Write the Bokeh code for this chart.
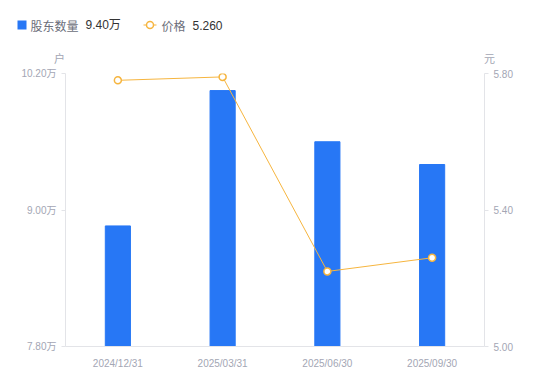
from bokeh.plotting import figure
from bokeh.layouts import column
from bokeh.models import (Range1d, LinearAxis, FixedTicker, CustomJSTickFormatter,
                          Label, FactorRange, ColumnDataSource)
from bokeh.embed import file_html
from bokeh.resources import INLINE

dates = ["2024/12/31", "2025/03/31", "2025/06/30", "2025/09/30"]
holders = [8.86, 10.05, 9.60, 9.40]   # 万户
prices = [5.78, 5.79, 5.22, 5.26]     # 元
left_ticks = [7.8, 9.0, 10.2]
right_ticks = [5.0, 5.4, 5.8]
legend_names = ["股东数量", "价格"]
legend_values = ["9.40万", "5.260"]
units = ["户", "元"]

BLUE = "#2777F5"
ORANGE = "#F6B53F"
TICK = "#A3A6B4"
AXIS = "#E3E4E8"
CJK = "Noto Sans CJK SC"
MIX = "Liberation Sans, Noto Sans CJK SC"

W, H = 550, 381
HEAD = 66          # height of the header strip (legend + units)
FL, FR, FT, FB = 65, 484, 73, 346   # plot frame in page pixels

# ---------- header strip: legend and unit labels ----------
hd = figure(width=W, height=HEAD, x_range=Range1d(0, W), y_range=Range1d(HEAD, 0),
            output_backend="svg", toolbar_location=None, min_border=0)
hd.frame_align = False
hd.axis.visible = False
hd.grid.visible = False
hd.outline_line_color = None
hd.border_fill_color = "white"

def lab(fig, x, y, text, color, size="12px", font=CJK, align="left"):
    fig.add_layout(Label(x=x, y=y, text=text, text_color=color, text_font_size=size,
                         text_font=font, text_align=align, text_baseline="middle"))

hd.rect(x=[21.5], y=[24.5], width=9, height=9, fill_color=BLUE, line_color=None)
lab(hd, 30, 24.5, legend_names[0], "#6B6E7A")
lab(hd, 85, 24.5, legend_values[0], "#333333", font=MIX)
hd.segment(x0=[143], y0=[24.5], x1=[156], y1=[24.5], line_color=ORANGE, line_width=1.2)
hd.scatter(x=[149.5], y=[24.5], size=7, fill_color="white", line_color=ORANGE, line_width=1.5)
lab(hd, 161, 24.5, legend_names[1], "#6B6E7A")
lab(hd, 192, 24.5, legend_values[1], "#333333", font=MIX)
lab(hd, 59, 57, units[0], TICK, size="11px", align="center")
lab(hd, 489, 57, units[1], TICK, size="11px", align="center")

# ---------- main chart ----------
src = ColumnDataSource(dict(d=dates, h=holders, p=prices))

p = figure(width=W, height=H - HEAD, x_range=FactorRange(*dates, range_padding=0),
           y_range=Range1d(left_ticks[0], left_ticks[-1]), output_backend="svg",
           toolbar_location=None, min_border_left=FL, min_border_right=W - FR,
           min_border_top=FT - HEAD, min_border_bottom=H - FB)
p.frame_align = False
p.extra_y_ranges = {"price": Range1d(right_ticks[0], right_ticks[-1])}
p.outline_line_color = None
p.xgrid.grid_line_color = None
p.ygrid.grid_line_color = None
p.background_fill_color = "white"
p.border_fill_color = "white"

p.vbar(x="d", top="h", bottom=left_ticks[0], width=0.24, color=BLUE, source=src)
p.line(x="d", y="p", color=ORANGE, line_width=1, y_range_name="price", source=src)
p.scatter(x="d", y="p", size=7, fill_color="white", line_color=ORANGE, line_width=1.5,
          y_range_name="price", source=src)

ya = p.yaxis[0]
ya.ticker = FixedTicker(ticks=left_ticks)
ya.formatter = CustomJSTickFormatter(code="return tick.toFixed(2) + '万';")
ra = LinearAxis(y_range_name="price")
ra.ticker = FixedTicker(ticks=right_ticks)
ra.formatter = CustomJSTickFormatter(code="return tick.toFixed(2);")
p.add_layout(ra, "right")
for ax in (ya, ra):
    ax.axis_line_color = AXIS
    ax.major_tick_line_color = AXIS
    ax.major_tick_in = 0
    ax.major_tick_out = 4
    ax.minor_tick_line_color = None
    ax.major_label_text_color = TICK
    ax.major_label_text_font_size = "10px"
    ax.major_label_text_font = MIX

xa = p.xaxis[0]
xa.axis_line_color = AXIS
xa.major_tick_line_color = None
xa.minor_tick_line_color = None
xa.major_label_text_color = TICK
xa.major_label_text_font = "Liberation Sans"
xa.major_label_text_font_size = "10px"

layout = column(hd, p, spacing=0)
open("out.html", "w").write(file_html(layout, INLINE))
